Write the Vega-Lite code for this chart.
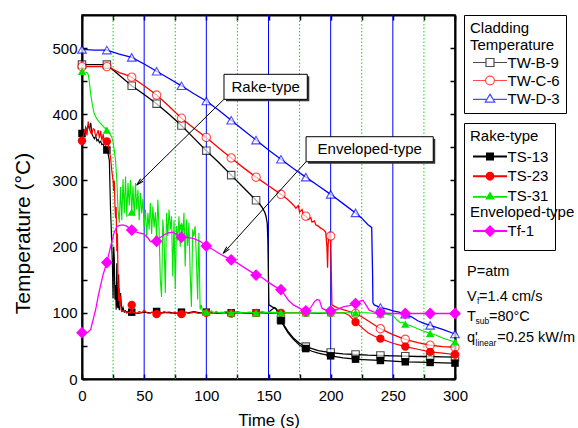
{
"$schema": "https://vega.github.io/schema/vega-lite/v6.json",
"autosize": "none",
"width": 373, "height": 364,
"padding": {"left": 82, "top": 15, "right": 123, "bottom": 49},
"config": {
  "font": "Liberation Sans",
  "view": {"stroke": "black", "strokeWidth": 1.5},
  "axis": {"labelFont": "Liberation Sans", "titleFont": "Liberation Sans", "labelColor": "black", "titleColor": "black", "tickColor": "black", "domainColor": "black"},
  "legend": {"labelFont": "Liberation Sans", "titleFont": "Liberation Sans", "labelFontSize": 15, "titleFontSize": 15, "titleFontWeight": "normal", "labelColor": "black", "titleColor": "black", "labelLimit": 300},
  "text": {"font": "Liberation Sans"}
},
"datasets": {
"tw": [
{"s":"TW-B-9","t":0,"T":475},{"s":"TW-B-9","t":5,"T":475},{"s":"TW-B-9","t":10,"T":475},{"s":"TW-B-9","t":15,"T":475},{"s":"TW-B-9","t":20,"T":475},{"s":"TW-B-9","t":25,"T":467},{"s":"TW-B-9","t":30,"T":459},{"s":"TW-B-9","t":35,"T":451},{"s":"TW-B-9","t":40,"T":443},{"s":"TW-B-9","t":50,"T":430},{"s":"TW-B-9","t":60,"T":416},{"s":"TW-B-9","t":70,"T":400},{"s":"TW-B-9","t":80,"T":383},{"s":"TW-B-9","t":90,"T":364},{"s":"TW-B-9","t":100,"T":345},{"s":"TW-B-9","t":110,"T":327},{"s":"TW-B-9","t":120,"T":308},{"s":"TW-B-9","t":130,"T":289},{"s":"TW-B-9","t":140,"T":270},{"s":"TW-B-9","t":143,"T":264},{"s":"TW-B-9","t":145,"T":259},{"s":"TW-B-9","t":147,"T":252},{"s":"TW-B-9","t":148,"T":246},{"s":"TW-B-9","t":149,"T":235},{"s":"TW-B-9","t":149.5,"T":210},{"s":"TW-B-9","t":150,"T":150},{"s":"TW-B-9","t":150.3,"T":112},{"s":"TW-B-9","t":153,"T":109},{"s":"TW-B-9","t":156,"T":106},{"s":"TW-B-9","t":158,"T":98},{"s":"TW-B-9","t":160,"T":90},{"s":"TW-B-9","t":163,"T":80},{"s":"TW-B-9","t":166,"T":71},{"s":"TW-B-9","t":170,"T":62},{"s":"TW-B-9","t":175,"T":54},{"s":"TW-B-9","t":180,"T":49},{"s":"TW-B-9","t":185,"T":46},{"s":"TW-B-9","t":190,"T":43},{"s":"TW-B-9","t":200,"T":40},{"s":"TW-B-9","t":210,"T":38},{"s":"TW-B-9","t":220,"T":37},{"s":"TW-B-9","t":230,"T":36},{"s":"TW-B-9","t":240,"T":35.5},{"s":"TW-B-9","t":250,"T":35},{"s":"TW-B-9","t":260,"T":34.5},{"s":"TW-B-9","t":270,"T":34},{"s":"TW-B-9","t":280,"T":34},{"s":"TW-B-9","t":290,"T":33.5},{"s":"TW-B-9","t":300,"T":33},
{"s":"TW-C-6","t":0,"T":472},{"s":"TW-C-6","t":10,"T":472},{"s":"TW-C-6","t":20,"T":472},{"s":"TW-C-6","t":25,"T":468},{"s":"TW-C-6","t":30,"T":463},{"s":"TW-C-6","t":35,"T":460},{"s":"TW-C-6","t":40,"T":456},{"s":"TW-C-6","t":50,"T":443},{"s":"TW-C-6","t":60,"T":429},{"s":"TW-C-6","t":70,"T":412},{"s":"TW-C-6","t":80,"T":394},{"s":"TW-C-6","t":90,"T":379},{"s":"TW-C-6","t":100,"T":365},{"s":"TW-C-6","t":110,"T":349},{"s":"TW-C-6","t":120,"T":334},{"s":"TW-C-6","t":130,"T":319},{"s":"TW-C-6","t":140,"T":305},{"s":"TW-C-6","t":150,"T":292},{"s":"TW-C-6","t":160,"T":279},{"s":"TW-C-6","t":165,"T":272},{"s":"TW-C-6","t":170,"T":263},{"s":"TW-C-6","t":172,"T":258},{"s":"TW-C-6","t":174,"T":262},{"s":"TW-C-6","t":175,"T":252},{"s":"TW-C-6","t":177,"T":256},{"s":"TW-C-6","t":178,"T":248},{"s":"TW-C-6","t":180,"T":246},{"s":"TW-C-6","t":182,"T":241},{"s":"TW-C-6","t":184,"T":244},{"s":"TW-C-6","t":185,"T":237},{"s":"TW-C-6","t":187,"T":239},{"s":"TW-C-6","t":188,"T":233},{"s":"TW-C-6","t":190,"T":231},{"s":"TW-C-6","t":192,"T":228},{"s":"TW-C-6","t":194,"T":226},{"s":"TW-C-6","t":196,"T":222},{"s":"TW-C-6","t":197,"T":200},{"s":"TW-C-6","t":197.5,"T":168},{"s":"TW-C-6","t":198,"T":205},{"s":"TW-C-6","t":199,"T":220},{"s":"TW-C-6","t":200,"T":216},{"s":"TW-C-6","t":200.5,"T":160},{"s":"TW-C-6","t":201,"T":112},{"s":"TW-C-6","t":205,"T":108},{"s":"TW-C-6","t":210,"T":105},{"s":"TW-C-6","t":215,"T":102},{"s":"TW-C-6","t":220,"T":99},{"s":"TW-C-6","t":225,"T":94},{"s":"TW-C-6","t":230,"T":88},{"s":"TW-C-6","t":235,"T":82},{"s":"TW-C-6","t":240,"T":76},{"s":"TW-C-6","t":250,"T":67},{"s":"TW-C-6","t":260,"T":60},{"s":"TW-C-6","t":270,"T":55},{"s":"TW-C-6","t":280,"T":51},{"s":"TW-C-6","t":290,"T":49},{"s":"TW-C-6","t":300,"T":48},
{"s":"TW-D-3","t":0,"T":498},{"s":"TW-D-3","t":10,"T":497},{"s":"TW-D-3","t":20,"T":497},{"s":"TW-D-3","t":25,"T":494},{"s":"TW-D-3","t":30,"T":491},{"s":"TW-D-3","t":40,"T":486},{"s":"TW-D-3","t":50,"T":476},{"s":"TW-D-3","t":60,"T":465},{"s":"TW-D-3","t":70,"T":454},{"s":"TW-D-3","t":80,"T":443},{"s":"TW-D-3","t":90,"T":431},{"s":"TW-D-3","t":100,"T":420},{"s":"TW-D-3","t":110,"T":406},{"s":"TW-D-3","t":120,"T":391},{"s":"TW-D-3","t":130,"T":376},{"s":"TW-D-3","t":140,"T":361},{"s":"TW-D-3","t":150,"T":346},{"s":"TW-D-3","t":160,"T":332},{"s":"TW-D-3","t":170,"T":318},{"s":"TW-D-3","t":180,"T":305},{"s":"TW-D-3","t":190,"T":292},{"s":"TW-D-3","t":200,"T":279},{"s":"TW-D-3","t":210,"T":265},{"s":"TW-D-3","t":220,"T":251},{"s":"TW-D-3","t":225,"T":243},{"s":"TW-D-3","t":230,"T":233},{"s":"TW-D-3","t":233,"T":229},{"s":"TW-D-3","t":233.7,"T":160},{"s":"TW-D-3","t":234,"T":115},{"s":"TW-D-3","t":235,"T":112},{"s":"TW-D-3","t":240,"T":108},{"s":"TW-D-3","t":245,"T":106},{"s":"TW-D-3","t":250,"T":103},{"s":"TW-D-3","t":255,"T":101},{"s":"TW-D-3","t":260,"T":98},{"s":"TW-D-3","t":265,"T":94},{"s":"TW-D-3","t":270,"T":88},{"s":"TW-D-3","t":275,"T":84},{"s":"TW-D-3","t":280,"T":81},{"s":"TW-D-3","t":290,"T":75},{"s":"TW-D-3","t":300,"T":68}
],
"rk": [
{"s":"TS-13","t":0,"T":371},{"s":"TS-13","t":1,"T":376},{"s":"TS-13","t":2,"T":372},{"s":"TS-13","t":3,"T":380},{"s":"TS-13","t":4,"T":374},{"s":"TS-13","t":5,"T":384},{"s":"TS-13","t":6,"T":378},{"s":"TS-13","t":7,"T":387},{"s":"TS-13","t":8,"T":370},{"s":"TS-13","t":9,"T":366},{"s":"TS-13","t":10,"T":363},{"s":"TS-13","t":11,"T":367},{"s":"TS-13","t":12,"T":360},{"s":"TS-13","t":13,"T":362},{"s":"TS-13","t":14,"T":357},{"s":"TS-13","t":15,"T":359},{"s":"TS-13","t":16,"T":354},{"s":"TS-13","t":17,"T":355},{"s":"TS-13","t":18,"T":350},{"s":"TS-13","t":19,"T":352},{"s":"TS-13","t":20,"T":346},{"s":"TS-13","t":21,"T":340},{"s":"TS-13","t":22,"T":330},{"s":"TS-13","t":22.5,"T":290},{"s":"TS-13","t":23,"T":253},{"s":"TS-13","t":23.5,"T":230},{"s":"TS-13","t":24,"T":198},{"s":"TS-13","t":24.5,"T":170},{"s":"TS-13","t":25,"T":122},{"s":"TS-13","t":25.5,"T":200},{"s":"TS-13","t":26,"T":182},{"s":"TS-13","t":26.5,"T":120},{"s":"TS-13","t":27,"T":142},{"s":"TS-13","t":27.5,"T":105},{"s":"TS-13","t":28,"T":175},{"s":"TS-13","t":28.5,"T":110},{"s":"TS-13","t":29,"T":107},{"s":"TS-13","t":29.5,"T":158},{"s":"TS-13","t":30,"T":104},{"s":"TS-13","t":31,"T":130},{"s":"TS-13","t":32,"T":102},{"s":"TS-13","t":33,"T":108},{"s":"TS-13","t":34,"T":101},{"s":"TS-13","t":35,"T":103},{"s":"TS-13","t":36,"T":100},{"s":"TS-13","t":38,"T":104},{"s":"TS-13","t":40,"T":101},{"s":"TS-13","t":45,"T":99},{"s":"TS-13","t":50,"T":101},{"s":"TS-13","t":55,"T":100},{"s":"TS-13","t":60,"T":102},{"s":"TS-13","t":65,"T":100},{"s":"TS-13","t":70,"T":101},{"s":"TS-13","t":75,"T":99},{"s":"TS-13","t":80,"T":101},{"s":"TS-13","t":85,"T":100},{"s":"TS-13","t":90,"T":102},{"s":"TS-13","t":95,"T":100},{"s":"TS-13","t":100,"T":101},{"s":"TS-13","t":105,"T":100},{"s":"TS-13","t":110,"T":99},{"s":"TS-13","t":115,"T":101},{"s":"TS-13","t":120,"T":100},{"s":"TS-13","t":125,"T":101},{"s":"TS-13","t":130,"T":100},{"s":"TS-13","t":135,"T":99},{"s":"TS-13","t":140,"T":100},{"s":"TS-13","t":145,"T":101},{"s":"TS-13","t":150,"T":100},{"s":"TS-13","t":152,"T":104},{"s":"TS-13","t":155,"T":108},{"s":"TS-13","t":157,"T":104},{"s":"TS-13","t":159,"T":95},{"s":"TS-13","t":160,"T":88},{"s":"TS-13","t":163,"T":78},{"s":"TS-13","t":166,"T":69},{"s":"TS-13","t":170,"T":60},{"s":"TS-13","t":175,"T":51},{"s":"TS-13","t":180,"T":46},{"s":"TS-13","t":185,"T":42},{"s":"TS-13","t":190,"T":39},{"s":"TS-13","t":200,"T":35},{"s":"TS-13","t":210,"T":32},{"s":"TS-13","t":220,"T":30},{"s":"TS-13","t":230,"T":29},{"s":"TS-13","t":240,"T":28},{"s":"TS-13","t":250,"T":27},{"s":"TS-13","t":260,"T":26},{"s":"TS-13","t":270,"T":25.5},{"s":"TS-13","t":280,"T":25},{"s":"TS-13","t":290,"T":24.5},{"s":"TS-13","t":300,"T":24},
{"s":"TS-23","t":0,"T":360},{"s":"TS-23","t":1,"T":365},{"s":"TS-23","t":2,"T":375},{"s":"TS-23","t":3,"T":379},{"s":"TS-23","t":4,"T":368},{"s":"TS-23","t":5,"T":389},{"s":"TS-23","t":6,"T":380},{"s":"TS-23","t":7,"T":372},{"s":"TS-23","t":8,"T":371},{"s":"TS-23","t":9,"T":378},{"s":"TS-23","t":10,"T":377},{"s":"TS-23","t":11,"T":366},{"s":"TS-23","t":12,"T":370},{"s":"TS-23","t":13,"T":376},{"s":"TS-23","t":14,"T":364},{"s":"TS-23","t":15,"T":375},{"s":"TS-23","t":16,"T":360},{"s":"TS-23","t":17,"T":370},{"s":"TS-23","t":18,"T":358},{"s":"TS-23","t":19,"T":362},{"s":"TS-23","t":20,"T":359},{"s":"TS-23","t":21,"T":358},{"s":"TS-23","t":22,"T":345},{"s":"TS-23","t":23,"T":334},{"s":"TS-23","t":24,"T":314},{"s":"TS-23","t":25,"T":300},{"s":"TS-23","t":25.5,"T":284},{"s":"TS-23","t":26,"T":300},{"s":"TS-23","t":26.5,"T":262},{"s":"TS-23","t":27,"T":243},{"s":"TS-23","t":27.5,"T":260},{"s":"TS-23","t":28,"T":193},{"s":"TS-23","t":28.5,"T":220},{"s":"TS-23","t":29,"T":150},{"s":"TS-23","t":29.5,"T":118},{"s":"TS-23","t":30,"T":137},{"s":"TS-23","t":30.5,"T":110},{"s":"TS-23","t":31,"T":125},{"s":"TS-23","t":31.5,"T":104},{"s":"TS-23","t":32,"T":102},{"s":"TS-23","t":34,"T":103},{"s":"TS-23","t":36,"T":100},{"s":"TS-23","t":38,"T":101},{"s":"TS-23","t":39,"T":100},{"s":"TS-23","t":40,"T":112},{"s":"TS-23","t":41,"T":100},{"s":"TS-23","t":42,"T":101},{"s":"TS-23","t":44,"T":99},{"s":"TS-23","t":46,"T":102},{"s":"TS-23","t":48,"T":100},{"s":"TS-23","t":50,"T":104},{"s":"TS-23","t":52,"T":100},{"s":"TS-23","t":54,"T":99},{"s":"TS-23","t":56,"T":101},{"s":"TS-23","t":58,"T":100},{"s":"TS-23","t":60,"T":98},{"s":"TS-23","t":62,"T":101},{"s":"TS-23","t":64,"T":99},{"s":"TS-23","t":66,"T":102},{"s":"TS-23","t":68,"T":100},{"s":"TS-23","t":70,"T":100},{"s":"TS-23","t":72,"T":99},{"s":"TS-23","t":74,"T":101},{"s":"TS-23","t":76,"T":100},{"s":"TS-23","t":78,"T":99},{"s":"TS-23","t":80,"T":98},{"s":"TS-23","t":82,"T":100},{"s":"TS-23","t":84,"T":101},{"s":"TS-23","t":86,"T":99},{"s":"TS-23","t":88,"T":100},{"s":"TS-23","t":90,"T":101},{"s":"TS-23","t":92,"T":100},{"s":"TS-23","t":94,"T":99},{"s":"TS-23","t":96,"T":100},{"s":"TS-23","t":100,"T":100},{"s":"TS-23","t":110,"T":100},{"s":"TS-23","t":120,"T":99},{"s":"TS-23","t":130,"T":100},{"s":"TS-23","t":140,"T":100},{"s":"TS-23","t":150,"T":99},{"s":"TS-23","t":160,"T":100},{"s":"TS-23","t":170,"T":100},{"s":"TS-23","t":180,"T":100},{"s":"TS-23","t":190,"T":99},{"s":"TS-23","t":200,"T":100},{"s":"TS-23","t":210,"T":100},{"s":"TS-23","t":212,"T":99},{"s":"TS-23","t":215,"T":96},{"s":"TS-23","t":218,"T":90},{"s":"TS-23","t":220,"T":86},{"s":"TS-23","t":225,"T":78},{"s":"TS-23","t":230,"T":70},{"s":"TS-23","t":235,"T":65},{"s":"TS-23","t":240,"T":61},{"s":"TS-23","t":250,"T":54},{"s":"TS-23","t":260,"T":49},{"s":"TS-23","t":270,"T":45},{"s":"TS-23","t":280,"T":41},{"s":"TS-23","t":290,"T":39},{"s":"TS-23","t":300,"T":37},
{"s":"TS-31","t":0,"T":465},{"s":"TS-31","t":2,"T":464},{"s":"TS-31","t":4,"T":463},{"s":"TS-31","t":5,"T":460},{"s":"TS-31","t":6,"T":448},{"s":"TS-31","t":7,"T":430},{"s":"TS-31","t":8,"T":418},{"s":"TS-31","t":9,"T":408},{"s":"TS-31","t":10,"T":400},{"s":"TS-31","t":12,"T":393},{"s":"TS-31","t":14,"T":388},{"s":"TS-31","t":16,"T":384},{"s":"TS-31","t":18,"T":380},{"s":"TS-31","t":20,"T":376},{"s":"TS-31","t":22,"T":372},{"s":"TS-31","t":24,"T":365},{"s":"TS-31","t":25,"T":358},{"s":"TS-31","t":26,"T":345},{"s":"TS-31","t":27,"T":330},{"s":"TS-31","t":28,"T":300},{"s":"TS-31","t":29,"T":255},{"s":"TS-31","t":30,"T":236},{"s":"TS-31","t":31,"T":290},{"s":"TS-31","t":32,"T":240},{"s":"TS-31","t":33,"T":302},{"s":"TS-31","t":34,"T":250},{"s":"TS-31","t":35,"T":306},{"s":"TS-31","t":36,"T":245},{"s":"TS-31","t":37,"T":296},{"s":"TS-31","t":38,"T":262},{"s":"TS-31","t":39,"T":301},{"s":"TS-31","t":40,"T":252},{"s":"TS-31","t":41,"T":292},{"s":"TS-31","t":42,"T":246},{"s":"TS-31","t":43,"T":296},{"s":"TS-31","t":44,"T":256},{"s":"TS-31","t":45,"T":286},{"s":"TS-31","t":46,"T":240},{"s":"TS-31","t":47,"T":281},{"s":"TS-31","t":48,"T":250},{"s":"TS-31","t":49,"T":272},{"s":"TS-31","t":50,"T":230},{"s":"TS-31","t":51,"T":256},{"s":"TS-31","t":52,"T":214},{"s":"TS-31","t":53,"T":251},{"s":"TS-31","t":54,"T":226},{"s":"TS-31","t":55,"T":266},{"s":"TS-31","t":56,"T":219},{"s":"TS-31","t":57,"T":261},{"s":"TS-31","t":58,"T":229},{"s":"TS-31","t":59,"T":252},{"s":"TS-31","t":60,"T":214},{"s":"TS-31","t":61,"T":271},{"s":"TS-31","t":62,"T":226},{"s":"TS-31","t":63,"T":150},{"s":"TS-31","t":64,"T":124},{"s":"TS-31","t":65,"T":241},{"s":"TS-31","t":66,"T":211},{"s":"TS-31","t":67,"T":130},{"s":"TS-31","t":68,"T":251},{"s":"TS-31","t":69,"T":216},{"s":"TS-31","t":70,"T":256},{"s":"TS-31","t":71,"T":226},{"s":"TS-31","t":72,"T":246},{"s":"TS-31","t":73,"T":155},{"s":"TS-31","t":74,"T":240},{"s":"TS-31","t":75,"T":136},{"s":"TS-31","t":76,"T":231},{"s":"TS-31","t":77,"T":209},{"s":"TS-31","t":78,"T":246},{"s":"TS-31","t":79,"T":200},{"s":"TS-31","t":80,"T":231},{"s":"TS-31","t":81,"T":216},{"s":"TS-31","t":82,"T":251},{"s":"TS-31","t":83,"T":170},{"s":"TS-31","t":84,"T":241},{"s":"TS-31","t":85,"T":201},{"s":"TS-31","t":86,"T":236},{"s":"TS-31","t":87,"T":160},{"s":"TS-31","t":88,"T":109},{"s":"TS-31","t":89,"T":226},{"s":"TS-31","t":90,"T":216},{"s":"TS-31","t":91,"T":231},{"s":"TS-31","t":92,"T":181},{"s":"TS-31","t":93,"T":120},{"s":"TS-31","t":94,"T":221},{"s":"TS-31","t":95,"T":105},{"s":"TS-31","t":96,"T":112},{"s":"TS-31","t":97,"T":100},{"s":"TS-31","t":98,"T":103},{"s":"TS-31","t":99,"T":100},{"s":"TS-31","t":100,"T":101},{"s":"TS-31","t":102,"T":99},{"s":"TS-31","t":104,"T":103},{"s":"TS-31","t":106,"T":100},{"s":"TS-31","t":108,"T":102},{"s":"TS-31","t":110,"T":100},{"s":"TS-31","t":112,"T":101},{"s":"TS-31","t":114,"T":100},{"s":"TS-31","t":116,"T":102},{"s":"TS-31","t":118,"T":100},{"s":"TS-31","t":120,"T":100},{"s":"TS-31","t":125,"T":101},{"s":"TS-31","t":130,"T":100},{"s":"TS-31","t":135,"T":101},{"s":"TS-31","t":140,"T":100},{"s":"TS-31","t":145,"T":100},{"s":"TS-31","t":150,"T":101},{"s":"TS-31","t":160,"T":100},{"s":"TS-31","t":170,"T":100},{"s":"TS-31","t":180,"T":100},{"s":"TS-31","t":190,"T":100},{"s":"TS-31","t":200,"T":100},{"s":"TS-31","t":210,"T":100},{"s":"TS-31","t":220,"T":100},{"s":"TS-31","t":230,"T":100},{"s":"TS-31","t":235,"T":99},{"s":"TS-31","t":240,"T":98},{"s":"TS-31","t":245,"T":98},{"s":"TS-31","t":250,"T":96},{"s":"TS-31","t":252,"T":92},{"s":"TS-31","t":254,"T":88},{"s":"TS-31","t":256,"T":85},{"s":"TS-31","t":258,"T":86},{"s":"TS-31","t":260,"T":83},{"s":"TS-31","t":265,"T":80},{"s":"TS-31","t":270,"T":76},{"s":"TS-31","t":275,"T":72},{"s":"TS-31","t":280,"T":69},{"s":"TS-31","t":285,"T":66},{"s":"TS-31","t":290,"T":62},{"s":"TS-31","t":295,"T":59},{"s":"TS-31","t":300,"T":56},
{"s":"Tf-1","t":0,"T":70},{"s":"Tf-1","t":3,"T":70},{"s":"Tf-1","t":5,"T":71},{"s":"Tf-1","t":7,"T":75},{"s":"Tf-1","t":9,"T":90},{"s":"Tf-1","t":11,"T":105},{"s":"Tf-1","t":13,"T":125},{"s":"Tf-1","t":15,"T":142},{"s":"Tf-1","t":17,"T":158},{"s":"Tf-1","t":19,"T":170},{"s":"Tf-1","t":20,"T":176},{"s":"Tf-1","t":22,"T":192},{"s":"Tf-1","t":24,"T":208},{"s":"Tf-1","t":26,"T":222},{"s":"Tf-1","t":28,"T":230},{"s":"Tf-1","t":30,"T":232},{"s":"Tf-1","t":33,"T":233},{"s":"Tf-1","t":36,"T":231},{"s":"Tf-1","t":40,"T":225},{"s":"Tf-1","t":45,"T":221},{"s":"Tf-1","t":50,"T":219},{"s":"Tf-1","t":53,"T":213},{"s":"Tf-1","t":55,"T":208},{"s":"Tf-1","t":58,"T":206},{"s":"Tf-1","t":60,"T":208},{"s":"Tf-1","t":63,"T":214},{"s":"Tf-1","t":66,"T":218},{"s":"Tf-1","t":70,"T":221},{"s":"Tf-1","t":73,"T":222},{"s":"Tf-1","t":76,"T":219},{"s":"Tf-1","t":80,"T":214},{"s":"Tf-1","t":85,"T":214},{"s":"Tf-1","t":90,"T":212},{"s":"Tf-1","t":95,"T":208},{"s":"Tf-1","t":100,"T":201},{"s":"Tf-1","t":105,"T":196},{"s":"Tf-1","t":110,"T":190},{"s":"Tf-1","t":115,"T":185},{"s":"Tf-1","t":120,"T":180},{"s":"Tf-1","t":125,"T":175},{"s":"Tf-1","t":130,"T":169},{"s":"Tf-1","t":135,"T":163},{"s":"Tf-1","t":140,"T":157},{"s":"Tf-1","t":145,"T":153},{"s":"Tf-1","t":150,"T":146},{"s":"Tf-1","t":155,"T":140},{"s":"Tf-1","t":160,"T":135},{"s":"Tf-1","t":163,"T":127},{"s":"Tf-1","t":166,"T":119},{"s":"Tf-1","t":170,"T":112},{"s":"Tf-1","t":173,"T":109},{"s":"Tf-1","t":176,"T":106},{"s":"Tf-1","t":180,"T":103},{"s":"Tf-1","t":184,"T":108},{"s":"Tf-1","t":187,"T":117},{"s":"Tf-1","t":189,"T":120},{"s":"Tf-1","t":191,"T":119},{"s":"Tf-1","t":193,"T":107},{"s":"Tf-1","t":196,"T":104},{"s":"Tf-1","t":200,"T":103},{"s":"Tf-1","t":205,"T":105},{"s":"Tf-1","t":210,"T":109},{"s":"Tf-1","t":215,"T":111},{"s":"Tf-1","t":220,"T":114},{"s":"Tf-1","t":224,"T":118},{"s":"Tf-1","t":226,"T":119},{"s":"Tf-1","t":228,"T":113},{"s":"Tf-1","t":231,"T":104},{"s":"Tf-1","t":235,"T":101},{"s":"Tf-1","t":240,"T":100},{"s":"Tf-1","t":250,"T":99},{"s":"Tf-1","t":260,"T":99},{"s":"Tf-1","t":270,"T":99},{"s":"Tf-1","t":280,"T":99},{"s":"Tf-1","t":290,"T":99},{"s":"Tf-1","t":300,"T":99}
],
"majorGrid": [{"g":50},{"g":100},{"g":150},{"g":200},{"g":250}],
"minorGrid": [{"g":25},{"g":75},{"g":125},{"g":175},{"g":225},{"g":275}],
"callouts": [
{"label":"Rake-type","x1":114.2,"x2":181.2,"y1":460.4,"y2":422.6,"tx":147.7,"ty":441.5,"ax1":115,"ay1":424.1,"ax2":44,"ay2":293.1},
{"label":"Enveloped-type","x1":180.2,"x2":282.5,"y1":366.1,"y2":328.3,"tx":231.4,"ty":347.2,"ax1":180.2,"ay1":328.3,"ax2":113.6,"ay2":189.9}
],
"notes": [
{"text":"P=atm","t":309.7,"T":155.6},{"text":"V","t":309.7,"T":118.3},{"text":"=1.4 cm/s","t":319.4,"T":118.3},{"text":"T","t":309.7,"T":88.1},{"text":"=80°C","t":327.3,"T":88.1},{"text":"q'","t":309.7,"T":56.4},{"text":"=0.25 kW/m","t":334,"T":56.4}
],
"subs": [
{"text":"f","t":317.7,"T":113.3},{"text":"sub","t":316.5,"T":82.7},{"text":"linear","t":316.5,"T":49.9}
]
},
"layer": [
{
  "data": {"name": "minorGrid"},
  "mark": {"type": "rule", "color": "#00dd00", "strokeWidth": 1, "strokeDash": [1.5, 2]},
  "encoding": {"x": {"field": "g", "type": "quantitative", "scale": {"domain": [0, 300]}, "axis": null}, "y": {"datum": 0, "type": "quantitative", "scale": {"domain": [0, 550]}, "axis": null}, "y2": {"datum": 550}}
},
{
  "data": {"name": "majorGrid"},
  "mark": {"type": "rule", "color": "#0000ff", "strokeWidth": 1},
  "encoding": {"x": {"field": "g", "type": "quantitative", "scale": {"domain": [0, 300]}, "axis": null}, "y": {"datum": 0, "type": "quantitative", "scale": {"domain": [0, 550]}, "axis": null}, "y2": {"datum": 550}}
},
{
  "data": {"name": "tw"},
  "mark": {"type": "point", "opacity": 0},
  "encoding": {
    "x": {"field": "t", "type": "quantitative", "scale": {"domain": [0, 300]},
      "axis": {"orient": "bottom", "title": "Time (s)", "values": [0,25,50,75,100,125,150,175,200,225,250,275,300],
        "labelExpr": "datum.value % 50 === 0 ? datum.label : ''",
        "grid": false, "tickSize": -5, "tickWidth": 1.5, "domainWidth": 2,
        "labelFontSize": 15, "labelPadding": 14, "labelFlush": false, "labelOverlap": false,
        "titleFontSize": 17, "titleFontWeight": "normal", "titlePadding": 9}},
    "y": {"field": "T", "type": "quantitative", "scale": {"domain": [0, 550]},
      "axis": {"orient": "left", "title": "Temperature (°C)", "values": [0,50,100,150,200,250,300,350,400,450,500],
        "labelExpr": "datum.value % 100 === 0 ? datum.label : ''",
        "grid": false, "tickSize": -5, "tickWidth": 1.5, "domainWidth": 2,
        "labelFontSize": 15, "labelPadding": 10, "labelOverlap": false,
        "titleFontSize": 21, "titleFontWeight": "normal", "titlePadding": 18, "titleY": 218}}
  }
},
{
  "data": {"name": "tw"},
  "mark": {"type": "point", "opacity": 0},
  "encoding": {
    "x": {"field": "t", "type": "quantitative", "scale": {"domain": [0, 300]},
      "axis": {"orient": "top", "values": [0,25,50,75,100,125,150,175,200,225,250,275,300], "labels": false, "title": null, "grid": false, "tickSize": -5, "tickWidth": 1.5, "domainWidth": 2}},
    "y": {"field": "T", "type": "quantitative", "scale": {"domain": [0, 550]},
      "axis": {"orient": "right", "values": [0,50,100,150,200,250,300,350,400,450,500], "labels": false, "title": null, "grid": false, "tickSize": -5, "tickWidth": 1.5, "domainWidth": 2}}
  }
},
{
  "data": {"name": "tw"},
  "encoding": {
    "x": {"field": "t", "type": "quantitative", "scale": {"domain": [0, 300]}, "axis": null},
    "y": {"field": "T", "type": "quantitative", "scale": {"domain": [0, 550]}, "axis": null}
  },
  "layer": [
    {"mark": {"type": "line", "strokeWidth": 1.3},
     "encoding": {"color": {"field": "s", "type": "nominal", "scale": {"domain": ["TW-B-9","TW-C-6","TW-D-3"], "range": ["#000000","#ff0000","#0000ff"]}, "legend": null}}},
    {"transform": [{"filter": "datum.s === 'TW-B-9' && datum.t % 20 === 0"}],
     "mark": {"type": "point", "shape": "square", "filled": false, "fill": "white", "size": 56, "strokeWidth": 1.1},
     "encoding": {"color": {"field": "s", "type": "nominal", "legend": null}}},
    {"transform": [{"filter": "datum.s === 'TW-C-6' && datum.t % 20 === 0"}],
     "mark": {"type": "point", "shape": "circle", "filled": false, "fill": "white", "size": 70, "strokeWidth": 1.1},
     "encoding": {"color": {"field": "s", "type": "nominal", "legend": null}}},
    {"transform": [{"filter": "datum.s === 'TW-D-3' && datum.t % 20 === 0"}],
     "mark": {"type": "point", "shape": "triangle-up", "filled": false, "fill": "white", "size": 75, "strokeWidth": 1.1},
     "encoding": {"color": {"field": "s", "type": "nominal", "legend": null}}}
  ]
},
{
  "data": {"name": "rk"},
  "encoding": {
    "x": {"field": "t", "type": "quantitative", "scale": {"domain": [0, 300]}, "axis": null},
    "y": {"field": "T", "type": "quantitative", "scale": {"domain": [0, 550]}, "axis": null}
  },
  "layer": [
    {"transform": [{"filter": "datum.s === 'TS-13'"}], "mark": {"type": "line", "strokeWidth": 1.2},
     "encoding": {"color": {"field": "s", "type": "nominal", "scale": {"domain": ["TS-13","TS-23","TS-31","Tf-1"], "range": ["#000000","#ff0000","#00e600","#ff00ff"]}, "legend": null}}},
    {"transform": [{"filter": "datum.s === 'TS-13' && datum.t % 20 === 0"}], "mark": {"type": "point", "shape": "square", "filled": true, "opacity": 1, "size": 56},
     "encoding": {"color": {"field": "s", "type": "nominal", "legend": null}}},
    {"transform": [{"filter": "datum.s === 'TS-23'"}], "mark": {"type": "line", "strokeWidth": 1.2},
     "encoding": {"color": {"field": "s", "type": "nominal", "legend": null}}},
    {"transform": [{"filter": "datum.s === 'TS-23' && datum.t % 20 === 0"}], "mark": {"type": "point", "shape": "circle", "filled": true, "opacity": 1, "size": 70},
     "encoding": {"color": {"field": "s", "type": "nominal", "legend": null}}},
    {"transform": [{"filter": "datum.s === 'TS-31'"}], "mark": {"type": "line", "strokeWidth": 1.1},
     "encoding": {"color": {"field": "s", "type": "nominal", "legend": null}}},
    {"transform": [{"filter": "datum.s === 'TS-31' && datum.t % 20 === 0"}], "mark": {"type": "point", "shape": "triangle-up", "filled": true, "opacity": 1, "size": 70},
     "encoding": {"color": {"field": "s", "type": "nominal", "legend": null}}},
    {"transform": [{"filter": "datum.s === 'Tf-1'"}], "mark": {"type": "line", "strokeWidth": 1.3},
     "encoding": {"color": {"field": "s", "type": "nominal", "legend": null}}},
    {"transform": [{"filter": "datum.s === 'Tf-1' && datum.t % 20 === 0"}], "mark": {"type": "point", "shape": "diamond", "filled": true, "opacity": 1, "size": 140},
     "encoding": {"color": {"field": "s", "type": "nominal", "legend": null}}}
  ]
},
{
  "data": {"values": [{"s": "TW-B-9"}, {"s": "TW-C-6"}, {"s": "TW-D-3"}]},
  "transform": [{"filter": "datum.t != null"}],
  "mark": {"type": "point", "filled": false, "strokeWidth": 1.2},
  "encoding": {
    "color": {"field": "s", "type": "nominal", "scale": {"domain": ["TW-B-9","TW-C-6","TW-D-3"], "range": ["#000000","#ff0000","#0000ff"]},
      "legend": {"title": ["Cladding", "Temperature"], "orient": "none", "legendX": 382, "legendY": 0, "titleLineHeight": 17, "titlePadding": 2, "rowPadding": 2, "padding": 6, "symbolOffset": 12.5, "labelOffset": 10, "symbolSize": 64, "symbolStrokeWidth": 1.2, "strokeColor": "black", "fillColor": "white"}},
    "shape": {"field": "s", "type": "nominal", "scale": {"domain": ["TW-B-9","TW-C-6","TW-D-3"], "range": ["M-4.25,0H-1M1,0H4.25M-1,-1H1V1H-1Z", "M-4.25,0H-1.1M1.1,0H4.25M1.1,0A1.1,1.1,0,1,1,-1.1,0A1.1,1.1,0,1,1,1.1,0Z", "M-4.25,0.2H-0.95M0.95,0.2H4.25M0,-1.1L1.2,0.9H-1.2Z"]},
      "legend": {"title": ["Cladding", "Temperature"], "orient": "none", "legendX": 382, "legendY": 0, "titleLineHeight": 17, "titlePadding": 2, "rowPadding": 2, "padding": 6, "symbolOffset": 12.5, "labelOffset": 10, "symbolSize": 64, "symbolStrokeWidth": 1.2, "strokeColor": "black", "fillColor": "white"}}
  }
},
{
  "data": {"values": [{"s": "TS-13"}, {"s": "TS-23"}, {"s": "TS-31"}]},
  "transform": [{"filter": "datum.t != null"}],
  "mark": {"type": "point", "filled": true, "opacity": 1},
  "encoding": {
    "color": {"field": "s", "type": "nominal", "scale": {"domain": ["TS-13","TS-23","TS-31","\u00a0","\u00a0\u00a0\u00a0\u00a0\u00a0\u00a0\u00a0\u00a0\u00a0\u00a0\u00a0\u00a0\u00a0\u00a0\u00a0"], "range": ["#000000","#ff0000","#00e600","#ffffff","#ffffff"]},
      "legend": {"title": "Rake-type", "orient": "none", "legendX": 382, "legendY": 108, "titlePadding": 5, "rowPadding": 3.75, "padding": 6, "symbolOffset": 12.5, "labelOffset": 10, "symbolSize": 64, "strokeColor": "black", "fillColor": "white"}},
    "shape": {"field": "s", "type": "nominal", "scale": {"domain": ["TS-13","TS-23","TS-31","\u00a0","\u00a0\u00a0\u00a0\u00a0\u00a0\u00a0\u00a0\u00a0\u00a0\u00a0\u00a0\u00a0\u00a0\u00a0\u00a0"], "range": [
        "M-4.25,-0.22H-0.9V0.22H-4.25ZM0.9,-0.22H4.25V0.22H0.9ZM-1,-1H1V1H-1Z",
        "M-4.25,-0.22H-1V0.22H-4.25ZM1,-0.22H4.25V0.22H1ZM1.1,0A1.1,1.1,0,1,1,-1.1,0A1.1,1.1,0,1,1,1.1,0Z",
        "M-4.25,0H-0.9V0.44H-4.25ZM0.9,0H4.25V0.44H0.9ZM0,-1.1L1.2,0.9H-1.2Z",
        "M0,0Z",
        "M0,0Z"]},
      "legend": {"title": "Rake-type", "orient": "none", "legendX": 382, "legendY": 108, "titlePadding": 5, "rowPadding": 3.75, "padding": 6, "symbolOffset": 12.5, "labelOffset": 10, "symbolSize": 64, "strokeColor": "black", "fillColor": "white"}}
  }
},
{
  "data": {"values": [{"s": "Tf-1"}]},
  "transform": [{"filter": "datum.t != null"}],
  "mark": {"type": "point", "filled": true, "opacity": 1},
  "encoding": {
    "color": {"field": "s", "type": "nominal", "scale": {"domain": ["Tf-1"], "range": ["#ff00ff"]},
      "legend": {"title": "\u00a0Enveloped-type", "orient": "none", "legendX": 382, "legendY": 184, "titlePadding": 3.5, "padding": 6, "symbolOffset": 12.5, "labelOffset": 10, "symbolSize": 64, "strokeColor": null, "fillColor": null}},
    "shape": {"field": "s", "type": "nominal", "scale": {"domain": ["Tf-1"], "range": ["M-4.25,-0.22H-1.3V0.22H-4.25ZM1.3,-0.22H4.25V0.22H1.3ZM0,-1.5L1.5,0L0,1.5L-1.5,0Z"]},
      "legend": {"title": "\u00a0Enveloped-type", "orient": "none", "legendX": 382, "legendY": 184, "titlePadding": 3.5, "padding": 6, "symbolOffset": 12.5, "labelOffset": 10, "symbolSize": 64, "strokeColor": null, "fillColor": null}}
  }
},
{
  "data": {"name": "callouts"},
  "layer": [
    {"mark": {"type": "rule", "color": "black", "strokeWidth": 1},
     "encoding": {"x": {"field": "ax1", "type": "quantitative", "scale": {"domain": [0, 300]}, "axis": null}, "y": {"field": "ay1", "type": "quantitative", "scale": {"domain": [0, 550]}, "axis": null}, "x2": {"field": "ax2"}, "y2": {"field": "ay2"}}},
    {"mark": {"type": "rect", "color": "#333333", "xOffset": 2, "x2Offset": 2, "yOffset": 2, "y2Offset": 2},
     "encoding": {"x": {"field": "x1", "type": "quantitative", "scale": {"domain": [0, 300]}, "axis": null}, "x2": {"field": "x2"}, "y": {"field": "y1", "type": "quantitative", "scale": {"domain": [0, 550]}, "axis": null}, "y2": {"field": "y2"}}},
    {"mark": {"type": "rect", "fill": "white", "stroke": "black", "strokeWidth": 1},
     "encoding": {"x": {"field": "x1", "type": "quantitative", "scale": {"domain": [0, 300]}, "axis": null}, "x2": {"field": "x2"}, "y": {"field": "y1", "type": "quantitative", "scale": {"domain": [0, 550]}, "axis": null}, "y2": {"field": "y2"}}},
    {"mark": {"type": "text", "fontSize": 15, "align": "center", "baseline": "middle", "color": "black"},
     "encoding": {"x": {"field": "tx", "type": "quantitative", "scale": {"domain": [0, 300]}, "axis": null}, "y": {"field": "ty", "type": "quantitative", "scale": {"domain": [0, 550]}, "axis": null}, "text": {"field": "label"}}},
    {"transform": [{"filter": "datum.label === 'Rake-type'"}],
     "mark": {"type": "point", "shape": "M-0.45,1.8L0,0L0.45,1.8", "filled": false, "color": "black", "strokeWidth": 1, "size": 64, "angle": 225.5, "opacity": 1},
     "encoding": {"x": {"field": "ax2", "type": "quantitative", "scale": {"domain": [0, 300]}, "axis": null}, "y": {"field": "ay2", "type": "quantitative", "scale": {"domain": [0, 550]}, "axis": null}}},
    {"transform": [{"filter": "datum.label === 'Enveloped-type'"}],
     "mark": {"type": "point", "shape": "M-0.45,1.8L0,0L0.45,1.8", "filled": false, "color": "black", "strokeWidth": 1, "size": 64, "angle": 222, "opacity": 1},
     "encoding": {"x": {"field": "ax2", "type": "quantitative", "scale": {"domain": [0, 300]}, "axis": null}, "y": {"field": "ay2", "type": "quantitative", "scale": {"domain": [0, 550]}, "axis": null}}}
  ]
},
{
  "data": {"name": "notes"},
  "mark": {"type": "text", "fontSize": 14.5, "align": "left", "baseline": "alphabetic", "color": "black"},
  "encoding": {"x": {"field": "t", "type": "quantitative", "scale": {"domain": [0, 300]}, "axis": null}, "y": {"field": "T", "type": "quantitative", "scale": {"domain": [0, 550]}, "axis": null}, "text": {"field": "text"}}
},
{
  "data": {"name": "subs"},
  "mark": {"type": "text", "fontSize": 8.5, "align": "left", "baseline": "alphabetic", "color": "black"},
  "encoding": {"x": {"field": "t", "type": "quantitative", "scale": {"domain": [0, 300]}, "axis": null}, "y": {"field": "T", "type": "quantitative", "scale": {"domain": [0, 550]}, "axis": null}, "text": {"field": "text"}}
}
],
"resolve": {"scale": {"color": "independent", "shape": "independent"}, "axis": {"x": "independent", "y": "independent"}}
}
